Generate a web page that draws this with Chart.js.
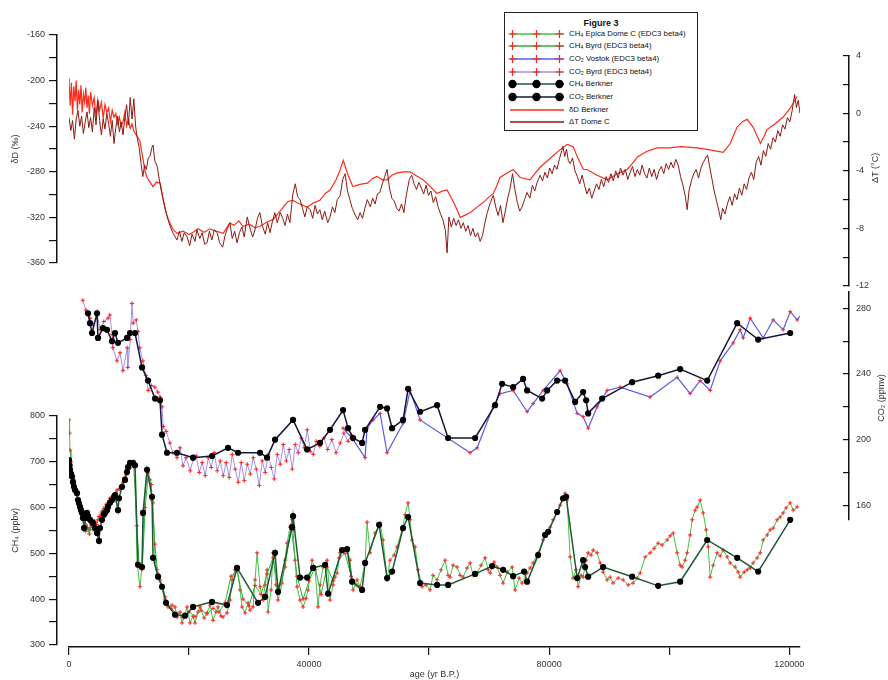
<!DOCTYPE html>
<html>
<head>
<meta charset="utf-8">
<title>Figure 3</title>
<script src="https://cdn.jsdelivr.net/npm/chart.js"></script>
<style>
  html, body { margin: 0; padding: 0; background: #fff; }
  #wrap { position: relative; width: 888px; height: 680px; }
  #legend {
    position: absolute; left: 504px; top: 12px; width: 192px; height: 117px;
    border: 1.5px solid #222; background: #fff;
    font-family: "Liberation Sans", Arial, sans-serif; color: #111;
  }
  #legend .ttl { position: absolute; left: 0; right: 0; top: 5px; text-align: center; font-size: 9px; font-weight: bold; }
  #legend .row { position: absolute; left: 0; height: 12px; width: 192px; font-size: 7.8px; }
  #legend svg { position: absolute; left: 3px; top: 0; }
  #legend span { position: absolute; left: 64px; top: 1px; white-space: nowrap; }
</style>
</head>
<body>
<div id="wrap">
  <canvas id="chart" width="888" height="680"></canvas>
  <div id="legend"><div class="ttl">Figure 3</div></div>
</div>
<script>
// age (yr B.P.) on x, each series as [age, value]

// ΔT Dome C (°C), right upper axis
var dTDomeC = [
  [0,-0.3],[300,-1.2],[600,-0.5],[900,-1.8],[1200,-0.4],[1500,0.2],[1800,-0.9],[2100,-0.2],[2400,-1.4],[2700,-0.6],
  [3000,0.1],[3300,-1.0],[3600,-0.3],[3900,-1.3],[4200,0.4],[4500,-0.8],[4800,0.9],[5100,-0.5],[5400,-1.5],[5700,-0.4],
  [6000,-1.1],[6300,0.0],[6600,-0.7],[6900,-1.6],[7200,-0.5],[7500,-2.1],[7800,-1.0],[8100,-0.2],[8400,-1.3],[8700,-0.6],
  [9000,-1.5],[9300,-0.3],[9600,0.6],[9900,-0.8],[10200,1.1],[10500,-0.4],[10800,1.0],[11100,-0.9],[11400,-1.8],[11700,-2.4],
  [12000,-3.5],[12300,-4.4],[12600,-3.6],[12900,-3.9],[13200,-3.1],[13500,-3.0],[13800,-2.4],[14000,-2.2],[14300,-3.3],[14700,-3.7],
  [15000,-4.5],[15300,-5.2],[15700,-6.0],[16100,-6.8],[16500,-7.4],[16900,-7.9],[17300,-8.3],[17700,-8.6],[18000,-8.8],[18400,-8.2],
  [18800,-8.9],[19200,-8.3],[19700,-8.6],[20100,-9.2],[20500,-8.4],[21000,-8.9],[21300,-8.1],[21800,-8.7],[22200,-8.3],[22600,-9.1],
  [23000,-9.0],[23400,-8.2],[23800,-8.8],[24200,-8.1],[24700,-8.3],[25100,-9.0],[25600,-9.3],[26000,-8.5],[26400,-8.0],[26800,-7.6],
  [27200,-8.7],[27600,-8.2],[28000,-9.0],[28400,-8.3],[28800,-7.9],[29200,-8.6],[29700,-7.2],[30100,-7.9],[30600,-8.6],[31000,-8.1],
  [31400,-7.3],[31800,-6.9],[32200,-7.8],[32700,-8.4],[33100,-7.6],[33500,-8.3],[33900,-7.5],[34300,-6.9],[34700,-7.6],[35200,-6.9],
  [35600,-7.3],[36000,-7.8],[36400,-7.0],[36800,-7.6],[37300,-5.6],[37700,-4.9],[38100,-5.8],[38500,-6.0],[38900,-6.6],[39300,-7.2],
  [39700,-6.5],[40200,-6.7],[40600,-7.3],[41000,-6.4],[41400,-7.0],[41800,-6.7],[42200,-7.4],[42600,-6.8],[43100,-7.6],[43500,-7.2],
  [43900,-6.5],[44300,-6.9],[44700,-6.0],[45200,-5.7],[45600,-4.6],[46000,-4.2],[46400,-5.4],[46800,-6.0],[47200,-6.6],[47600,-7.0],
  [48100,-7.4],[48500,-6.9],[48900,-7.3],[49300,-6.6],[49700,-6.0],[50200,-6.5],[50600,-5.9],[51000,-6.3],[51400,-5.6],[51800,-5.5],
  [52200,-4.9],[52600,-4.4],[53000,-3.9],[53400,-5.2],[53800,-5.9],[54200,-6.1],[54600,-6.6],[55000,-6.8],[55400,-6.3],[55800,-6.9],
  [56200,-5.7],[56700,-4.6],[57100,-4.3],[57500,-4.9],[57900,-5.3],[58300,-4.8],[58700,-5.2],[59100,-5.6],[59500,-5.0],[59900,-5.7],
  [60300,-5.4],[60700,-6.2],[61100,-5.8],[61500,-6.5],[61900,-7.0],[62300,-7.4],[62700,-8.1],[63000,-9.7],[63300,-7.2],[63700,-7.9],
  [64100,-7.3],[64500,-7.8],[64900,-7.4],[65300,-8.0],[65700,-7.6],[66100,-8.2],[66500,-7.8],[66900,-8.5],[67300,-8.0],[67700,-8.6],
  [68100,-8.3],[68500,-8.9],[68900,-8.5],[69300,-7.6],[69700,-6.9],[70200,-6.2],[70700,-5.7],[71100,-6.5],[71500,-7.1],[71900,-6.4],
  [72300,-7.6],[72700,-6.8],[73100,-5.9],[73500,-5.2],[73900,-4.2],[74300,-5.3],[74700,-6.2],[75100,-6.8],[75500,-6.5],[75900,-6.0],
  [76300,-5.5],[76800,-5.9],[77200,-5.0],[77600,-5.4],[78000,-4.8],[78500,-4.3],[78900,-4.7],[79300,-4.1],[79700,-4.5],[80100,-3.8],
  [80500,-4.2],[80900,-3.6],[81300,-3.9],[81700,-3.2],[82100,-2.6],[82300,-2.3],[82600,-3.0],[82900,-2.5],[83200,-3.3],[83500,-3.5],
  [83900,-3.1],[84300,-4.0],[84700,-4.4],[85100,-4.9],[85500,-4.3],[85900,-5.0],[86300,-5.6],[86700,-5.2],[87100,-5.9],[87500,-5.4],
  [87900,-4.9],[88300,-5.3],[88700,-4.6],[89100,-5.1],[89500,-4.4],[89900,-4.8],[90300,-4.2],[90700,-4.7],[91100,-4.0],[91500,-4.5],
  [91900,-3.8],[92300,-4.3],[92700,-3.9],[93100,-4.6],[93500,-4.1],[93900,-3.7],[94300,-4.4],[94700,-3.9],[95100,-4.3],[95500,-3.6],
  [95900,-4.2],[96300,-4.5],[96700,-3.8],[97100,-4.4],[97500,-3.9],[97900,-4.6],[98300,-4.0],[98700,-3.7],[99100,-4.2],[99500,-3.5],
  [99900,-3.9],[100300,-3.4],[100700,-3.8],[101100,-3.2],[101500,-3.6],[101900,-4.4],[102300,-5.0],[102700,-5.8],[103000,-6.7],[103300,-5.4],
  [103700,-4.7],[104100,-4.2],[104500,-3.9],[104900,-4.5],[105300,-3.8],[105700,-3.4],[106100,-3.1],[106400,-2.9],[106700,-3.6],[107100,-4.5],
  [107500,-5.4],[107900,-6.1],[108300,-6.8],[108600,-7.4],[108900,-6.6],[109300,-7.0],[109700,-6.3],[110100,-5.8],[110500,-6.4],[110900,-5.6],
  [111300,-6.0],[111700,-5.2],[112100,-5.7],[112500,-4.9],[112900,-5.3],[113300,-4.5],[113700,-4.1],[114100,-4.6],[114500,-3.4],[114900,-3.0],
  [115300,-3.6],[115700,-2.6],[116100,-3.0],[116500,-2.1],[116900,-2.5],[117300,-1.7],[117700,-2.0],[118100,-1.2],[118500,-1.6],[118900,-0.8],
  [119300,-1.1],[119700,-0.3],[120100,-0.6],[120500,0.2],[120900,1.3],[121200,0.4],[121500,0.9],[121800,0.0]
];

// δD Berkner (‰), left upper axis
var dDBerkner = [
  [0,-198],[200,-222],[400,-202],[600,-230],[800,-205],[1000,-218],[1200,-200],[1400,-226],[1600,-208],[1800,-221],
  [2000,-204],[2200,-228],[2400,-212],[2600,-219],[2800,-206],[3000,-224],[3200,-213],[3400,-229],[3600,-210],[3900,-222],
  [4200,-215],[4500,-231],[4800,-217],[5100,-226],[5400,-219],[5700,-233],[6000,-221],[6300,-228],[6600,-224],[6900,-236],
  [7200,-226],[7500,-232],[7800,-229],[8100,-238],[8400,-232],[8700,-240],[9000,-236],[9300,-228],[9600,-240],[9900,-234],
  [10200,-242],[10500,-238],[10800,-244],[11100,-247],[11400,-249],[11800,-253],[12300,-268],[12700,-280],[13000,-285],[13500,-289],
  [14000,-293],[14600,-289],[15200,-290],[15700,-305],[16300,-318],[16800,-325],[17400,-331],[18000,-334],[19000,-332],[20000,-335],
  [20700,-333],[21500,-330],[22500,-333],[23500,-330],[24500,-332],[25700,-334],[26300,-329],[26800,-325],[27500,-327],[28300,-323],
  [29000,-328],[30000,-326],[31000,-329],[31800,-328],[33000,-324],[34000,-322],[34800,-317],[35700,-311],[36500,-306],[37300,-305],
  [38300,-308],[39700,-311],[40800,-307],[41800,-305],[42700,-299],[43500,-296],[44500,-287],[45200,-278],[45700,-270],[46500,-283],
  [47300,-293],[48500,-291],[49700,-290],[50500,-286],[51300,-284],[52200,-287],[53000,-287],[53800,-283],[54700,-281],[55700,-280],
  [56800,-280],[58000,-284],[59000,-287],[60200,-293],[61300,-299],[62200,-297],[63000,-296],[64200,-308],[65200,-320],[66000,-318],
  [66800,-316],[68000,-311],[69000,-307],[70000,-302],[70700,-299],[71300,-292],[71800,-285],[73000,-281],[74000,-278],[75200,-285],
  [76800,-287],[77700,-281],[78500,-276],[80000,-269],[81300,-263],[82200,-259],[83000,-256],[84000,-258],[84800,-268],[85700,-278],
  [86300,-278],[88000,-283],[89700,-287],[91300,-282],[93000,-278],[94000,-272],[94700,-267],[96300,-262],[98000,-259],[100000,-259],
  [102000,-258],[104700,-259],[107000,-261],[109000,-263],[109600,-259],[110200,-255],[110800,-247],[111300,-241],[112200,-236],[113000,-234],
  [114000,-241],[114600,-248],[115200,-255],[115800,-249],[116300,-243],[117600,-238],[119000,-232],[120200,-224],[121300,-214]
];

// CO2 Byrd (ppmv)
var co2Byrd = [
  [2300,285],[2800,279],[3500,274],[4000,270],[4700,276],[5200,267],[5800,272],[6500,274],[6800,276],[7200,264],
  [7300,256],[8000,248],[8500,253],[9000,242],[9700,256],[9800,244],[10200,261],[10500,283],[10700,271],[11200,273],
  [11500,266],[11800,256],[12300,248],[12800,239],[13200,230],[13700,233],[14300,232],[14800,229],[15200,226],[15500,220],
  [15700,208],[16200,205],[16800,198],[17300,192],[18000,189],[18500,195],[19000,184],[19500,189],[20200,181],[20700,188],
  [21200,190],[21700,180],[22200,186],[22700,178],[23200,189],[23700,183],[24200,192],[24700,181],[25200,187],[25700,178],
  [26200,186],[26700,177],[27200,191],[27700,182],[28200,174],[28700,186],[29200,175],[29700,185],[30200,179],[30700,189],
  [31200,182],[31700,172],[32200,187],[32700,180],[33200,191],[33700,183],[34200,176],[34700,191],[35200,185],[35700,197],
  [36200,187],[36700,194],[37200,182],[37700,197],[38200,192],[38700,201],[39200,195],[39700,206],[40200,193],[40700,191],
  [41200,199],[41800,196],[42500,201],[43100,194],[43800,200],[44500,192],[45200,198],[45800,204],[46500,199],[47000,203]
];

// CO2 Vostok (ppmv)
var co2Vostok = [
  [45667,207],[47333,200],[49333,189],[49667,207],[50667,212],[51833,216],[53000,192],[55667,210],[56833,230],[58500,212],
  [66833,192],[68000,195],[70667,220],[71833,228],[74000,230],[76333,217],[77333,222],[79000,230],[81833,242],[83000,234],
  [84667,216],[85667,214],[86500,207],[88000,220],[89667,230],[91833,232],[96833,226],[101333,238],[103500,228],[105167,236],
  [106833,230],[108500,248],[110667,259],[111833,267],[112333,262],[113500,274],[115667,262],[117333,273],[119000,267],[120167,278],
  [121333,273],[122333,278],[123167,269],[124000,268],[124333,282],[125167,276],[126000,267],[126833,264],[127333,274],[128167,278],
  [128833,274]
];

// CO2 Berkner (ppmv)
var co2Berkner = [
  [3167,277],[3500,271],[3833,265],[4667,277],[4833,262],[5667,268],[6333,267],[7167,260],[7667,265],[8167,259],
  [9667,262],[10167,265],[11000,265],[12167,244],[13167,236],[14333,225],[15167,224],[15500,203],[16333,192],[18000,192],
  [20667,189],[23833,190],[26500,195],[28167,192],[31833,192],[33000,189],[34333,200],[37333,212],[39667,194],[41833,198],
  [43500,206],[45667,218],[46500,207],[47333,201],[48833,198],[49333,206],[51833,220],[53000,219],[53833,207],[55667,212],
  [56500,231],[58500,217],[61333,221],[63167,201],[67667,201],[71000,221],[72167,234],[74000,232],[75667,237],[76333,230],
  [78833,225],[79667,230],[81333,236],[82667,236],[84333,223],[85667,229],[86167,224],[86500,216],[88833,225],[93833,235],
  [98167,239],[101833,243],[106333,236],[111333,271],[114833,261],[120167,265]
];

// CH4 Epica Dome C (ppbv)
var ch4Edc = [
  [0,791],[100,762],[167,725],[333,699],[833,660],[1333,627],[1833,605],[2333,584],[2833,562],[3333,551],
  [3833,568],[4333,555],[4833,573],[5333,584],[5833,594],[6333,605],[6833,620],[7500,616],[8000,638],[8500,642],
  [9167,664],[9667,682],[10167,692],[10667,699],[11000,690],[11333,479],[11833,427],[12167,470],[12500,594],[13000,682],
  [13500,660],[13833,616],[14000,610],[14333,485],[14667,464],[15167,442],[15667,427],[16000,405],[16500,383],[17167,387],
  [17667,383],[18000,361],[18500,372],[18833,348],[19333,365],[19667,383],[20167,348],[20667,363],[21000,348],[21500,372],
  [21833,383],[22500,359],[23000,370],[23500,387],[24000,354],[24500,372],[24833,383],[25333,363],[25667,361],[26333,370],
  [26833,398],[27167,442],[27667,464],[28000,470],[28500,420],[28833,383],[29333,370],[29833,392],[30167,376],[30667,383],
  [31000,442],[31333,501],[31833,427],[32333,398],[32667,431],[33000,464],[33167,372],[33667,420],[34000,501],[34500,431],
  [34833,398],[35500,435],[36000,485],[36333,522],[36833,557],[37167,573],[37333,551],[37667,485],[38000,427],[38500,398],
  [39000,383],[39500,402],[39833,420],[40500,485],[41000,464],[41500,383],[41833,431],[42333,470],[43000,485],[43500,398],
  [44000,431],[44333,448],[44667,457],[45167,501],[45500,507],[46000,507],[46333,511],[46833,485],[47333,420],[48000,442],
  [48500,427],[49333,479],[49667,568],[50167,501],[51000,544],[51833,566],[52333,529],[53000,442],[53500,485],[54167,496],
  [54667,514],[55500,551],[56000,584],[56500,610],[56833,573],[57167,529],[57667,514],[58167,464],[58833,427],[59500,431],
  [60167,420],[60667,452],[61333,442],[62000,464],[62667,485],[63167,452],[63500,448],[64000,474],[64667,470],[65167,452],
  [65667,448],[66333,468],[66833,479],[67333,452],[68000,457],[68667,474],[69333,490],[69833,464],[70167,457],[70833,481],
  [71333,470],[71833,452],[72333,435],[73000,459],[73833,470],[74333,420],[75000,446],[75500,435],[76333,457],[76833,468],
  [77333,479],[78167,501],[79000,529],[79667,546],[80167,557],[80667,573],[81333,588],[81833,605],[82167,616],[82667,631],
  [83000,616],[83500,492],[84000,446],[84500,464],[84833,427],[85333,452],[85667,448],[86167,485],[86500,501],[87000,496],
  [87333,507],[88000,501],[88500,479],[89000,459],[89667,442],[90167,448],[90667,435],[91500,446],[92333,442],[93167,431],
  [94000,435],[94667,446],[95167,457],[96000,492],[96833,501],[97500,511],[98167,522],[98833,518],[99667,529],[100167,538],
  [100667,544],[101333,501],[101833,474],[102167,470],[102667,485],[103000,501],[103500,540],[103833,573],[104333,594],[104667,601],
  [105167,616],[105667,588],[106167,551],[106500,514],[106833,448],[107333,474],[108000,501],[108500,494],[109000,507],[109667,492],
  [110167,479],[111000,470],[111500,459],[111833,448],[112500,459],[113000,464],[113500,468],[114000,479],[114667,490],[115167,501],
  [115667,529],[116333,540],[116833,551],[117333,555],[118000,573],[118500,579],[119000,588],[119500,599],[120167,610],[120667,594],
  [121333,601]
];

// CH4 Byrd (ppbv)
var ch4Byrd = [
  [2200,575],[2500,560],[2800,548],[3100,556],[3400,542],[3700,560],[4000,552],[4300,570],[4600,563],[5000,580],
  [5400,590],[5800,598],[6200,607],[6700,615],[7200,620],[7800,632],[8400,640],[9000,655],[9600,672],[10200,686],
  [10800,690],[11300,560],[11700,470],[12200,465],[12700,600],[13200,675],[13700,650],[14300,520],[14800,455],[15400,430],
  [16000,400],[17000,380],[18000,368],[19000,360],[20000,372],[21000,362],[22000,376],[23000,368],[24000,380],[25000,372],
  [26000,392],[27000,450],[28000,462],[29000,400],[30000,385],[31000,430],[32000,410],[33000,455],[34000,490],[35000,420],
  [36000,470],[37000,560],[38000,450],[39000,400],[40000,440],[41000,470],[42000,410],[43000,470],[44000,440],[45000,490],
  [46000,500],[47000,450],[48000,430]
];

// CH4 Berkner (ppbv)
var ch4Berkner = [
  [0,703],[100,692],[167,682],[333,673],[500,667],[667,655],[833,645],[1000,638],[1333,631],[1500,616],
  [1667,609],[1833,601],[2000,594],[2167,588],[2333,577],[2500,555],[2833,577],[3000,588],[3167,581],[3500,573],
  [3833,568],[4000,566],[4333,555],[4667,544],[5000,527],[5167,555],[5500,573],[5833,584],[6000,588],[6333,594],
  [6500,601],[6833,610],[7167,616],[7500,623],[7667,627],[8167,594],[8333,620],[8833,645],[9333,660],[9667,677],
  [9833,688],[10167,697],[10667,697],[11000,692],[11500,475],[12167,470],[12333,588],[13000,682],[13833,623],[14000,490],
  [14833,449],[15500,427],[16167,392],[17667,366],[19333,364],[20667,383],[23833,394],[26333,387],[28000,468],[31500,392],
  [32667,405],[34333,501],[34833,416],[37167,557],[37333,581],[38500,447],[39667,447],[40667,468],[42667,475],[43167,412],
  [45500,507],[46333,509],[47167,438],[48833,420],[49333,479],[51667,562],[53000,446],[53833,460],[55667,555],[56500,579],
  [58500,435],[61333,431],[63167,431],[67667,455],[70500,472],[72333,464],[74000,450],[75833,460],[76333,438],[78167,496],
  [79333,540],[79833,547],[81333,590],[82333,620],[82833,623],[84667,446],[85667,485],[86000,470],[86500,449],[89000,470],
  [93833,449],[98167,429],[101833,438],[106333,529],[111333,490],[114833,460],[120167,573]
];

// axis ranges and tick positions
var ageTicks = [0, 20000, 40000, 60000, 80000, 100000, 120000];
var ageLabelStep = 40000;
var ageRange = [0, 121800];
var dDRange = [-360, -160];
var dTRange = [-12, 4];
var co2Range = [151, 290];
var ch4Range = [300, 800];

// outer box sizes (px) of the left, right and bottom axis bands
var LEFT_W = 57, RIGHT_W = 39, BOTTOM_H = 33;

function pts(arr) {
  return arr.map(function (p) { return { x: p[0], y: p[1] }; });
}

Chart.defaults.font.family = '"Liberation Sans", Arial, sans-serif';
Chart.defaults.color = '#333';

var tickFont = { size: 9 };
var axisInk = '#111';

function fixSize(s) {
  if (s.isHorizontal()) s.height = BOTTOM_H;
  else s.width = s.options.position === 'left' ? LEFT_W : RIGHT_W;
}

function leftAxis(stackWeight, weight, range, step, every, title) {
  return {
    type: 'linear', position: 'left', stack: 'L', stackWeight: stackWeight, weight: weight,
    min: range[0], max: range[1],
    border: { color: axisInk, width: 1.5 },
    grid: { drawOnChartArea: false, color: axisInk, tickLength: 8, lineWidth: 1.2 },
    ticks: { stepSize: step, autoSkip: false, includeBounds: false, padding: 4, font: tickFont, color: '#333',
      callback: function (v) { return Math.round(v) % every === 0 ? String(Math.round(v)) : ''; } },
    title: { display: true, text: title, font: { size: 9 }, color: '#333', padding: { top: 10, bottom: 0 } },
    afterFit: fixSize
  };
}

function rightAxis(stackWeight, weight, range, step, every) {
  return {
    type: 'linear', position: 'right', stack: 'R', stackWeight: stackWeight, weight: weight,
    min: range[0], max: range[1],
    border: { color: axisInk, width: 1.5 },
    grid: { drawOnChartArea: false, color: axisInk, tickLength: -6, lineWidth: 1.2 },
    ticks: { stepSize: step, autoSkip: false, includeBounds: false, padding: 13, font: tickFont, color: '#333',
      callback: function (v) { return Math.round(v) % every === 0 ? String(Math.round(v)) : ''; } },
    afterFit: fixSize
  };
}

// invisible spacer axes that push the visible ones into place
function gapAxis(position, stack, stackWeight, weight) {
  return { type: 'linear', position: position, stack: stack, stackWeight: stackWeight, weight: weight,
    display: false, afterFit: fixSize };
}

// right axis titles read bottom-to-top like the left ones
var rightTitles = [
  { axis: 'dT', text: 'ΔT (°C)', x: 876, dy: -3 },
  { axis: 'co2', text: 'CO₂ (ppmv)', x: 882, dy: -8 }
];

var sideTitles = {
  id: 'sideTitles',
  afterDraw: function (chart) {
    var ctx = chart.ctx;
    rightTitles.forEach(function (t) {
      var s = chart.scales[t.axis];
      ctx.save();
      ctx.translate(t.x, (s.top + s.bottom) / 2 + t.dy);
      ctx.rotate(-Math.PI / 2);
      ctx.font = '9px "Liberation Sans", Arial, sans-serif';
      ctx.fillStyle = '#333';
      ctx.textAlign = 'center';
      ctx.textBaseline = 'middle';
      ctx.fillText(t.text, 0, 0);
      ctx.restore();
    });
  }
};

var red = '#ff2020';

var chart = new Chart(document.getElementById('chart'), {
  type: 'line',
  data: {
    datasets: [
      { label: 'CH₄ Epica Dome C (EDC3 beta4)', data: pts(ch4Edc), xAxisID: 'x', yAxisID: 'ch4', order: 3,
        borderColor: '#46c046', borderWidth: 1, pointStyle: 'cross', pointRadius: 2.1,
        pointBorderColor: red, pointBorderWidth: 1 },
      { label: 'CH₄ Byrd (EDC3 beta4)', data: pts(ch4Byrd), xAxisID: 'x', yAxisID: 'ch4', order: 2,
        borderColor: '#2fae3a', borderWidth: 1, pointStyle: 'cross', pointRadius: 2.1,
        pointBorderColor: red, pointBorderWidth: 1 },
      { label: 'CO₂ Vostok (EDC3 beta4)', data: pts(co2Vostok), xAxisID: 'x', yAxisID: 'co2', order: 3,
        borderColor: '#5a5af0', borderWidth: 1.2, pointStyle: 'cross', pointRadius: 2,
        pointBorderColor: red, pointBorderWidth: 1 },
      { label: 'CO₂ Byrd (EDC3 beta4)', data: pts(co2Byrd), xAxisID: 'x', yAxisID: 'co2', order: 2,
        borderColor: '#a58ee8', borderWidth: 1, pointStyle: 'cross', pointRadius: 2.1,
        pointBorderColor: red, pointBorderWidth: 1 },
      { label: 'CH₄ Berkner', data: pts(ch4Berkner), xAxisID: 'x', yAxisID: 'ch4', order: 1,
        borderColor: '#1d5a34', borderWidth: 1.5, pointStyle: 'circle', pointRadius: 3.1,
        pointBackgroundColor: '#000', pointBorderColor: '#000', pointBorderWidth: 0 },
      { label: 'CO₂ Berkner', data: pts(co2Berkner), xAxisID: 'x', yAxisID: 'co2', order: 1,
        borderColor: '#16163a', borderWidth: 1.5, pointStyle: 'circle', pointRadius: 3.1,
        pointBackgroundColor: '#000', pointBorderColor: '#000', pointBorderWidth: 0 },
      { label: 'δD Berkner', data: pts(dDBerkner), xAxisID: 'x', yAxisID: 'dD', order: 5,
        borderColor: '#ff2a1a', borderWidth: 1.2, pointRadius: 0 },
      { label: 'ΔT Dome C', data: pts(dTDomeC), xAxisID: 'x', yAxisID: 'dT', order: 4,
        borderColor: '#8a1a12', borderWidth: 1, pointRadius: 0 }
    ]
  },
  options: {
    responsive: false,
    animation: false,
    devicePixelRatio: 1,
    layout: { padding: { top: 35, left: 0, right: 0, bottom: 0 } },
    elements: { line: { tension: 0 } },
    plugins: { legend: { display: false }, tooltip: { enabled: false } },
    scales: {
      xgL: gapAxis('bottom', 'B', 12, 1),
      x: {
        type: 'linear', position: 'bottom', stack: 'B', stackWeight: 731, weight: 2,
        min: ageRange[0], max: ageRange[1],
        afterBuildTicks: function (s) {
          s.ticks = ageTicks.map(function (v) { return { value: v }; });
        },
        border: { color: axisInk, width: 1.5 },
        grid: { drawOnChartArea: false, color: axisInk, tickLength: 8, lineWidth: 1.2 },
        ticks: { autoSkip: false, maxRotation: 0, padding: 4, font: tickFont, color: '#333',
          callback: function (v) { return v % ageLabelStep === 0 ? String(v) : ''; } },
        title: { display: true, text: 'age (yr B.P.)', font: { size: 9 }, color: '#333', padding: { top: 0, bottom: 0 } },
        afterFit: fixSize
      },
      xgR: gapAxis('bottom', 'B', 49, 3),

      dD: leftAxis(228, 4, dDRange, 20, 40, 'δD (‰)'),
      gL1: gapAxis('left', 'L', 152.7, 3),
      ch4: leftAxis(229.3, 2, ch4Range, 50, 100, 'CH₄ (ppbv)'),
      gL2: gapAxis('left', 'L', 2, 1),

      gR0: gapAxis('right', 'R', 20.7, 1),
      dT: rightAxis(230.3, 2, dTRange, 2, 4),
      gR1: gapAxis('right', 'R', 6, 3),
      co2: rightAxis(228, 4, co2Range, 20, 40),
      gR2: gapAxis('right', 'R', 127, 5)
    }
  },
  plugins: [sideTitles]
});

// html legend built from the datasets
(function buildLegend() {
  var box = document.getElementById('legend');
  chart.data.datasets.forEach(function (ds, i) {
    var row = document.createElement('div');
    row.className = 'row';
    row.style.top = (14.5 + i * 12.7) + 'px';
    var svg = '<svg width="60" height="12"><line x1="2" y1="6" x2="56" y2="6" stroke="' + ds.borderColor + '" stroke-width="1.3"/>';
    [4.5, 28.5, 51.5].forEach(function (cx) {
      if (ds.pointStyle === 'cross') {
        svg += '<path d="M' + (cx - 4) + ' 6H' + (cx + 4) + 'M' + cx + ' 2V10" stroke="' + ds.pointBorderColor + '" stroke-width="1.2"/>';
      } else if (ds.pointRadius > 0) {
        svg += '<circle cx="' + cx + '" cy="6" r="4.2" fill="#000"/>';
      }
    });
    svg += '</svg>';
    row.innerHTML = svg + '<span>' + ds.label + '</span>';
    box.appendChild(row);
  });
})();
</script>
</body>
</html>
